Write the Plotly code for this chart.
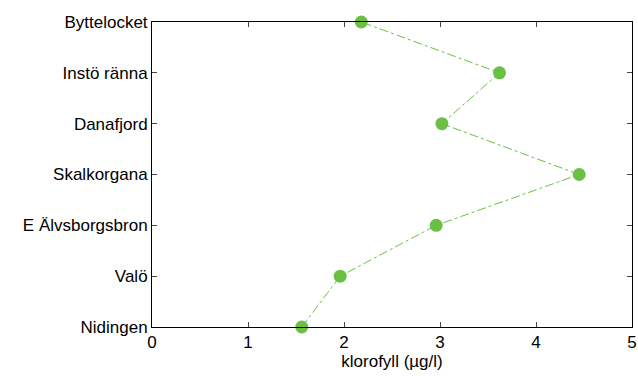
import plotly.graph_objects as go

stations = ["Nidingen", "Valö", "E Älvsborgsbron", "Skalkorgana", "Danafjord", "Instö ränna", "Byttelocket"]
klorofyll = [1.56, 1.96, 2.96, 4.45, 3.02, 3.62, 2.18]
x_ticks = [0, 1, 2, 3, 4, 5]

fig = go.Figure()
fig.add_trace(go.Scatter(
    x=klorofyll, y=stations, mode="lines+markers",
    line=dict(color="#6abf45", width=1, dash="dashdot"),
    marker=dict(color="#6abf45", size=13),
    cliponaxis=False, showlegend=False,
))
fig.update_layout(
    width=638, height=376,
    margin=dict(l=152, r=6, t=22, b=49, autoexpand=False),
    paper_bgcolor="white", plot_bgcolor="white",
    font=dict(family="Liberation Sans, Arial, sans-serif", size=17, color="black"),
    xaxis=dict(range=[0, 5], tickvals=x_ticks, ticks="inside", ticklen=5, mirror="ticks",
               showline=True, linecolor="black", linewidth=1, showgrid=False, zeroline=False,
               automargin=False,
               title=dict(text="klorofyll (µg/l)", standoff=3, font=dict(size=17)),
               tickfont=dict(size=17)),
    yaxis=dict(type="category", categoryorder="array", categoryarray=stations, range=[0, 6],
               ticks="inside", ticklen=5, mirror="ticks", showline=True, linecolor="black",
               linewidth=1, showgrid=False, zeroline=False, automargin=False,
               tickfont=dict(size=17)),
)
fig.write_html(
    "out.html",
    config={"displayModeBar": False},
    post_script="document.body.style.margin='0';document.body.style.overflow='hidden';"
                "document.documentElement.style.overflow='hidden';",
)
